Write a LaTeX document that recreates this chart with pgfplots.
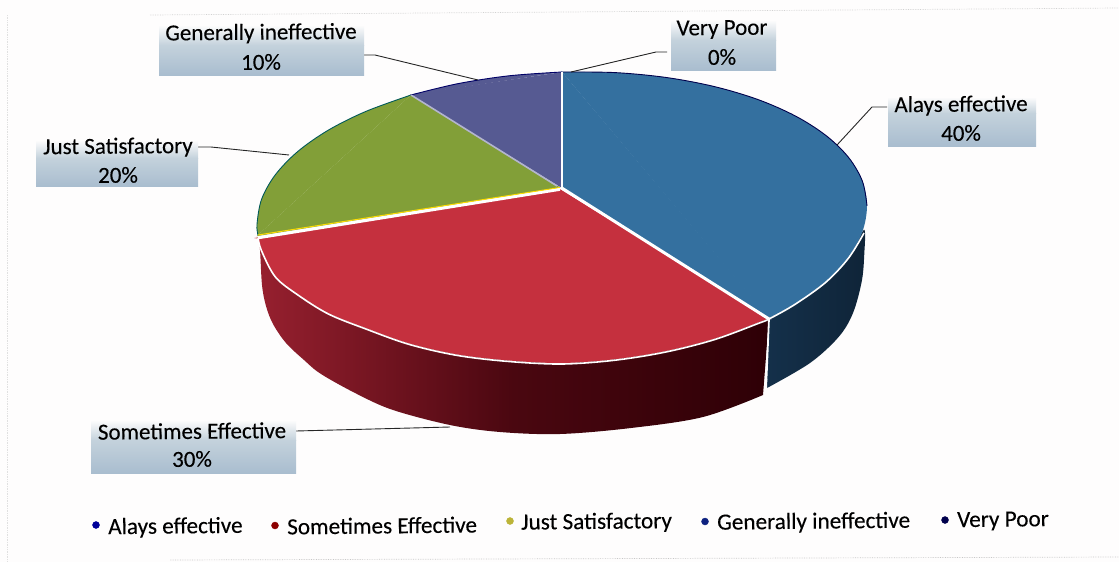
\documentclass[border=0pt]{standalone}
\usepackage{fontspec}
\setmainfont{Carlito}
\newfontfamily\lf[FakeBold=0.2]{Carlito}
\usepackage{pgfplots}
\pgfplotsset{compat=1.18}
\definecolor{bgc}{HTML}{FEFDFD}
\definecolor{blueT}{HTML}{34709F}
\definecolor{redT}{HTML}{C5303E}
\definecolor{greenT}{HTML}{829F38}
\definecolor{purpT}{HTML}{565A92}
\definecolor{bandA}{HTML}{A9BDCF}
\definecolor{bandB}{HTML}{C4D2DC}
\definecolor{sideBlueL}{HTML}{14304A}
\definecolor{sideBlueR}{HTML}{0F2438}
\definecolor{sideRedL}{HTML}{97202F}
\definecolor{sideRedM}{HTML}{4A0710}
\definecolor{sideRedR}{HTML}{2E0006}
\tikzset{lab/.style={font=\lf\fontsize{23}{26}\selectfont, text=black, inner sep=0pt, anchor=center, rotate=0.5},
 leg/.style={font=\lf\fontsize{23.2}{26}\selectfont, text=black, inner sep=0pt, anchor=west, rotate=0.6},
 up/.style={draw=none, top color=bgc, bottom color=bandB},
 band/.style={draw=none, top color=bandB, bottom color=bandA}}
\begin{document}
\begin{tikzpicture}
\begin{axis}[
  width=1119pt, height=562pt, scale only axis,
  xmin=0, xmax=1119, ymin=0, ymax=562, y dir=reverse,
  hide axis, no markers]
% background
\addplot[draw=none, fill=bgc] coordinates {(0,0) (1119,0) (1119,562) (0,562)} -- cycle;
% faint frame of the scanned page
\addplot[densely dotted, line width=0.7pt, color=black!18] coordinates {(150,15) (1119,8)};
\addplot[densely dotted, line width=0.7pt, color=black!22] coordinates {(170,560) (1119,557)};
\addplot[densely dotted, line width=0.7pt, color=black!12] coordinates {(7,15) (7,562)};
% side of blue slice
\addplot[draw=none, smooth, tension=0.55, left color=sideBlueL, right color=sideBlueR] coordinates {
 (769,318) (795.6,303.2) (826.1,281.1) (848.6,257) (862.4,231.7) (865,233) (864.5,250) (862,280) (853,313) (838.6,337) (810,363) (767,388)} -- cycle;
% side of red slice
\addplot[draw=none, smooth, tension=0.55, left color=sideRedL, right color=sideRedR, middle color=sideRedM] coordinates {
 (769,318) (758.1,322.5) (714.5,338.6) (666.3,350.9) (615,359.2) (562,363) (509,360.5) (457.7,354.5)
 (409.5,343.5) (365.9,328) (328.4,313) (297.9,294) (275.4,276) (261.6,250) (258,237)
 (260,250) (262,285) (266,306) (273,324) (286,343) (304,360) (321,374) (357,394) (393,410) (450,425) (500,432) (560,434)
 (631,428) (703,417) (763,395)} -- cycle;
% top face: blue
\addplot[fill=blueT, draw=blueT, line width=1.5pt] coordinates {(562,187) (562,73) (768,317)} -- cycle;
\addplot[fill=blueT, draw=none, smooth, tension=0.55] coordinates {
 (562,72) (615,72.6) (666.3,77.5) (714.5,86.6) (758.1,99.6) (795.6,116.1) (826.1,135.6)
 (848.6,157.5) (862.4,181.2) (867,205.8) (862.4,231.7) (848.6,257) (826.1,281.1) (795.6,303.2) (769,318)} -- cycle;
\addplot[color=blue!30!black, line width=0.9pt, smooth, tension=0.55] coordinates {
 (562,72) (615,72.6) (666.3,77.5) (714.5,86.6) (758.1,99.6) (795.6,116.1) (826.1,135.6)
 (848.6,157.5) (862.4,181.2) (867,205.8)};
% top face: red
\addplot[fill=redT, draw=redT, line width=1.5pt] coordinates {(560,190) (768,318) (259,238)} -- cycle;
\addplot[fill=redT, draw=none, smooth, tension=0.55] coordinates {
 (769,318) (758.1,322.5) (714.5,338.6) (666.3,350.9) (615,359.2) (562,363) (509,360.5) (457.7,354.5)
 (409.5,343.5) (365.9,328) (328.4,313) (297.9,294) (275.4,276) (261.6,250) (258,237)} -- cycle;
% top face: green
\addplot[fill=greenT, draw=greenT, line width=1.5pt] coordinates {(558,187) (411,96) (259,235)} -- cycle;
\addplot[fill=greenT, draw=none, smooth, tension=0.55] coordinates {
 (411,95) (365.9,111.4) (328.4,130.1) (297.9,151.4) (275.4,174.7) (261.6,199.2) (257,224.2) (258,235)} -- cycle;
\addplot[color=teal!70!black, line width=0.9pt, smooth, tension=0.55] coordinates {
 (411,95) (365.9,111.4) (328.4,130.1) (297.9,151.4) (275.4,174.7) (261.6,199.2) (257,224.2) (258,235)};
% top face: purple
\addplot[fill=purpT, draw=purpT, line width=1.5pt] coordinates {(560,186) (412,95) (561,73)} -- cycle;
\addplot[fill=purpT, draw=none, smooth, tension=0.55] coordinates {(411,95) (457.7,83.7) (509,75.8) (562,72)} -- cycle;
\addplot[color=blue!40!black, line width=0.9pt, smooth, tension=0.55] coordinates {(411,95) (457.7,83.7) (509,75.8) (562,72)};
% separators
\addplot[color=white, line width=1.5pt] coordinates {(562,72) (562,187)};
\addplot[color=purpT!45!white, line width=1.6pt] coordinates {(411,95) (557,186)};
\addplot[color=yellow!80!orange, line width=1pt] coordinates {(258,235) (560,187.5)};
\addplot[color=white, line width=2.6pt] coordinates {(258,238) (560,189.5)};
\addplot[color=white, line width=3pt] coordinates {(561,187.5) (769,319)};
\addplot[color=white, line width=1.8pt] coordinates {(769,318) (766,390)};
% white rim
\addplot[color=white, line width=1.6pt, smooth, tension=0.55] coordinates {
 (864,233) (848.6,258) (826.1,282) (795.6,304) (769,319) (758.1,323.5) (714.5,339.6) (666.3,351.9) (615,360.2)
 (562,364) (509,361.5) (457.7,355.5) (409.5,344.5) (365.9,329) (328.4,314) (297.9,295) (275.4,277) (261.6,251) (258,238)};
% leader lines
\addplot[color=black!85, line width=0.9pt] coordinates {(364,55) (375,55) (478,80)};
\addplot[color=black!85, line width=0.9pt] coordinates {(667,52) (656,52) (571,72)};
\addplot[color=black!85, line width=0.9pt] coordinates {(198,147) (211,147) (289,155)};
\addplot[color=black!85, line width=0.9pt] coordinates {(887,107) (872,107) (837,145)};
\addplot[color=black!85, line width=0.9pt] coordinates {(296,431) (450,427)};
% label boxes
\addplot[up] coordinates {(159,25) (364,25) (364,45) (159,45)} -- cycle;
\addplot[band] coordinates {(159,45) (364,45) (364,75) (159,75)} -- cycle;
\addplot[up] coordinates {(671,20) (776,20) (776,40) (671,40)} -- cycle;
\addplot[band] coordinates {(671,40) (776,40) (776,70) (671,70)} -- cycle;
\addplot[up] coordinates {(888,97) (1036,97) (1036,113) (888,113)} -- cycle;
\addplot[band] coordinates {(888,113) (1036,113) (1036,146) (888,146)} -- cycle;
\addplot[up] coordinates {(36,140) (198,140) (198,158) (36,158)} -- cycle;
\addplot[band] coordinates {(36,158) (198,158) (198,186) (36,186)} -- cycle;
\addplot[up] coordinates {(91,420) (296,420) (296,440) (91,440)} -- cycle;
\addplot[band] coordinates {(91,440) (296,440) (296,473) (91,473)} -- cycle;
% legend markers
\addplot[only marks, mark=square*, mark size=3.5pt, color=blue!60!black] coordinates {(96,525)};
\addplot[only marks, mark=square*, mark size=3.5pt, color=red!55!black] coordinates {(275,525.5)};
\addplot[only marks, mark=square*, mark size=3.5pt, color=yellow!70!black] coordinates {(510,521)};
\addplot[only marks, mark=square*, mark size=3.5pt, color=sideBlueL!70!blue] coordinates {(705,521.5)};
\addplot[only marks, mark=square*, mark size=3.5pt, color=blue!30!black] coordinates {(945,520)};
% texts
\node[lab] at (axis cs:261,33.5) {Generally ineffective};
\node[lab] at (axis cs:261,62) {10\%};
\node[lab] at (axis cs:722,29.5) {Very Poor};
\node[lab] at (axis cs:722,57) {0\%};
\node[lab] at (axis cs:961,105.5) {Alays effective};
\node[lab] at (axis cs:961,133) {40\%};
\node[lab] at (axis cs:118,147.5) {Just Satisfactory};
\node[lab] at (axis cs:118,175) {20\%};
\node[lab] at (axis cs:192,431) {Sometimes Effective};
\node[lab] at (axis cs:192,459) {30\%};
\node[leg] at (axis cs:108,528) {Alays effective};
\node[leg] at (axis cs:287,526.5) {Sometimes Effective};
\node[leg] at (axis cs:521,523.5) {Just Satisfactory};
\node[leg] at (axis cs:717,523.5) {Generally ineffective};
\node[leg] at (axis cs:957,521.5) {Very Poor};
\end{axis}
\end{tikzpicture}
\end{document}
